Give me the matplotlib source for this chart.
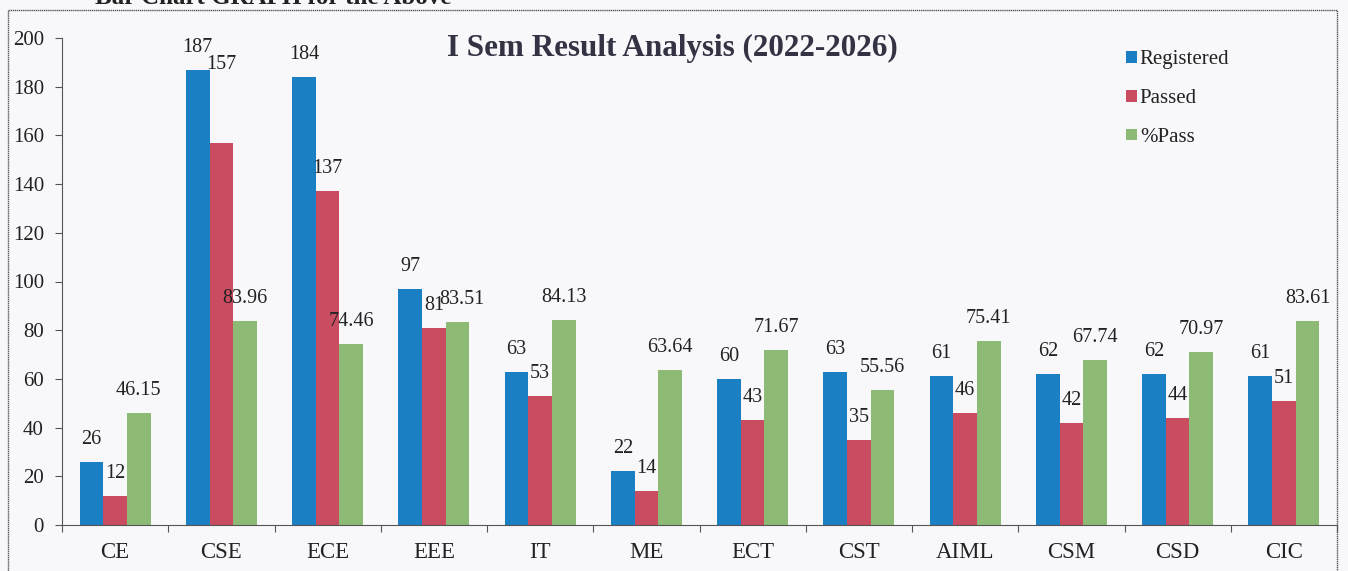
import matplotlib
matplotlib.use("Agg")
import matplotlib.pyplot as plt
import numpy as np
from matplotlib.patches import Rectangle, Patch

categories = ["CE", "CSE", "ECE", "EEE", "IT", "ME", "ECT", "CST", "AIML", "CSM", "CSD", "CIC"]
registered = [26, 187, 184, 97, 63, 22, 60, 63, 61, 62, 62, 61]
passed = [12, 157, 137, 81, 53, 14, 43, 35, 46, 42, 44, 51]
pct_pass = [46.15, 83.96, 74.46, 83.51, 84.13, 63.64, 71.67, 55.56, 75.41, 67.74, 70.97, 83.61]
pct_labels = ["46.15", "83.96", "74.46", "83.51", "84.13", "63.64", "71.67", "55.56", "75.41", "67.74", "70.97", "83.61"]
series_names = ["Registered", "Passed", "%Pass"]
yticks = [0, 20, 40, 60, 80, 100, 120, 140, 160, 180, 200]

colors = ["#1b7fc3", "#c94c60", "#8dbb75"]
W, H = 1348, 571
bg = "#f8f8fb"

plt.rcParams['font.family'] = ['Liberation Serif', 'DejaVu Serif']

fig = plt.figure(figsize=(W / 100, H / 100), dpi=100, facecolor=bg)

# outer chart border (extends beyond the bottom of the image)
fig.patches.append(Rectangle((8 / W, -0.1), (1337 - 8) / W, (H - 10) / H + 0.1,
                             transform=fig.transFigure, fill=False,
                             edgecolor="#555555", linewidth=1.0, linestyle=(0, (1, 0.5))))

# cut-off heading above the chart
fig.text(95 / W, 1 - 4 / H, "Bar Chart GRAPH for the Above", fontsize=18, fontweight="bold",
         ha="left", va="baseline", color="#222222")

x0, x1 = 62, 1337
y0, y1 = 525, 38
ax = fig.add_axes([x0 / W, (H - y0) / H, (x1 - x0) / W, (y0 - y1) / H])
ax.set_facecolor("none")

n = len(categories)
x = np.arange(n)
bw = 0.222
data = [registered, passed, pct_pass]
labels_txt = [[str(v) for v in registered], [str(v) for v in passed], pct_labels]
for i, (vals, col) in enumerate(zip(data, colors)):
    pos = x + (i - 1) * bw
    ax.bar(pos, vals, width=bw, color=col, edgecolor="none", label=series_names[i])
    for j, (p, v) in enumerate(zip(pos, vals)):
        extra = 56 if (i == 1 and categories[j] == "CSE") else 0
        dx = 4 if (i == 2 and categories[j] == "EEE") else 0
        ax.annotate(labels_txt[i][j], (p, v), xytext=(dx, 13 + extra), textcoords="offset pixels",
                    ha="center", va="bottom", fontsize=14.5, color="#222222")

ax.set_xlim(-0.5, n - 0.5)
ax.set_ylim(0, 200)
ax.set_yticks(yticks)
ax.set_yticklabels([str(t) for t in yticks], fontsize=15, color="#222222")
ax.set_xticks(np.arange(n + 1) - 0.5)
ax.set_xticklabels([])
ax.set_xticks(x, minor=True)
ax.set_xticklabels(categories, minor=True, fontsize=16.5, color="#222222")
ax.tick_params(axis="x", which="minor", length=0, pad=12)
ax.tick_params(axis="x", which="major", length=5, color="#555555", direction="out")
ax.tick_params(axis="y", length=5, color="#555555", direction="out", pad=8)
for s in ["top", "right"]:
    ax.spines[s].set_visible(False)
ax.spines["left"].set_color("#555555")
ax.spines["bottom"].set_color("#555555")

fig.text(672 / W, 1 - 48 / H, "I Sem Result Analysis (2022-2026)", fontsize=22.4, fontweight="bold",
         ha="center", va="center", color="#333344")

handles = [Patch(facecolor=c, edgecolor="none") for c in colors]
leg = fig.legend(handles, series_names, loc="upper left",
                 bbox_to_anchor=(1118 / W, 1 - 42 / H), frameon=False, fontsize=15,
                 handlelength=0.5, handleheight=0.5, handletextpad=0.15,
                 labelspacing=0.95, borderaxespad=0)
for t in leg.get_texts():
    t.set_color("#222222")

fig.savefig("out.png", dpi=100, facecolor=bg)
